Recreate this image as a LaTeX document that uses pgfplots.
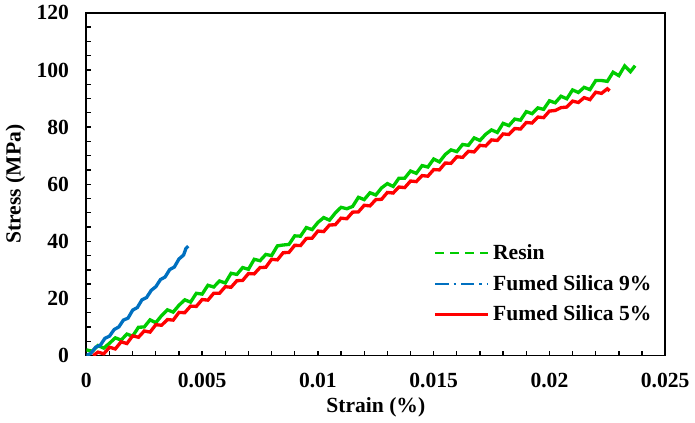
\documentclass[border=0pt]{standalone}
\usepackage{fontspec}
\setmainfont{Liberation Serif}
\usepackage{pgfplots}
\pgfplotsset{compat=1.18}

\definecolor{resin}{RGB}{0,204,0}
\definecolor{fs9}{RGB}{0,112,192}
\definecolor{fs5}{RGB}{255,0,0}

\begin{document}
\begin{tikzpicture}
\begin{axis}[
  scale only axis,
  width=348.6pt, height=206.4pt,
  xmin=0, xmax=0.025, ymin=0, ymax=120,
  scaled x ticks=false,
  xtick={0,0.005,0.01,0.015,0.02,0.025},
  xticklabels={0,0.005,0.01,0.015,0.02,0.025},
  ytick={0,20,...,120},
  yticklabels={0,20,40,60,80,100,120},
  minor x tick num=4, minor y tick num=3,
  tick pos=left, tick align=inside,
  major tick length=2.6pt, minor tick length=2.6pt,
  every tick/.style={black, line width=0.8pt},
  axis line style={line width=1.1pt},
  /pgf/number format/assume math mode=true,
  tick label style={font=\fontsize{13}{15}\selectfont\bfseries},
  xticklabel style={yshift=-7pt},
  yticklabel style={xshift=-7pt},
  xlabel={Strain (\%)}, ylabel={Stress (MPa)},
  label style={font=\fontsize{13}{15}\selectfont\bfseries},
  xlabel style={yshift=1pt},
  ylabel style={yshift=0pt},
  legend style={at={(0.6,0.335)}, anchor=north west, draw=none, fill=none,
    font=\fontsize{13}{15}\selectfont\bfseries, row sep=4pt,
    inner sep=0pt},
  legend cell align=left,
  legend image code/.code={\draw[#1] (0pt,0pt) -- (32pt,0pt);},
]
\addlegendimage{resin, line width=1.6pt, dash pattern=on 5pt off 4pt}
\addlegendentry{Resin}
\addlegendimage{fs9, line width=1.6pt, dash pattern=on 8pt off 3pt on 1.5pt off 3pt}
\addlegendentry{Fumed Silica 9\%}
\addlegendimage{fs5, line width=1.6pt}
\addlegendentry{Fumed Silica 5\%}

\addplot[resin, line width=2pt, forget plot] coordinates {
(0,2.0) (0.00025,1.5) (0.0005,3.5) (0.00075,2.6) (0.001,4.3) (0.00125,6.2)
(0.0015,5.4) (0.00175,7.5) (0.002,6.8) (0.00225,9.9) (0.0025,10.0) (0.00275,12.5)
(0.003,11.5) (0.00325,14.0) (0.0035,16.0) (0.00375,15.2) (0.004,17.6) (0.00425,19.5)
(0.0045,18.7) (0.00475,21.8) (0.005,21.5) (0.00525,24.6) (0.0055,24.0) (0.00575,26.1)
(0.006,25.4) (0.00625,28.8) (0.0065,28.4) (0.00675,30.8) (0.007,30.2) (0.00725,33.7)
(0.0075,33.2) (0.00775,35.4) (0.008,35.0) (0.00825,38.4) (0.0085,38.7) (0.00875,38.9)
(0.009,41.9) (0.00925,41.8) (0.0095,44.8) (0.00975,44.1) (0.01,46.6) (0.01025,48.3)
(0.0105,47.4) (0.01075,49.9) (0.011,51.9) (0.01125,51.4) (0.0115,52.2) (0.01175,55.4)
(0.012,54.6) (0.01225,57.0) (0.0125,56.2) (0.01275,58.7) (0.013,60.2) (0.01325,59.2)
(0.0135,62.1) (0.01375,62.1) (0.014,64.6) (0.01425,63.8) (0.0145,66.5) (0.01475,66.0)
(0.015,68.8) (0.01525,67.8) (0.0155,70.4) (0.01575,72.0) (0.016,71.4) (0.01625,73.9)
(0.0165,73.6) (0.01675,76.2) (0.017,75.3) (0.01725,77.5) (0.0175,79.0) (0.01775,78.1)
(0.018,81.3) (0.01825,80.5) (0.0185,82.8) (0.01875,82.4) (0.019,85.4) (0.01925,84.7)
(0.0195,86.7) (0.01975,86.2) (0.02,89.2) (0.02025,88.5) (0.0205,90.8) (0.02075,89.9)
(0.021,93.0) (0.02125,92.1) (0.0215,93.9) (0.02175,93.1) (0.022,96.3) (0.02225,96.3)
(0.0225,96.0) (0.02275,99.2) (0.023,98.0) (0.02325,101.4) (0.0235,99.4) (0.0237,101.5)
};

\addplot[fs9, line width=2pt, forget plot] coordinates {
(0,0.0) (0.0002,0.8) (0.0004,2.9) (0.0006,3.6) (0.0008,6.0) (0.001,6.8)
(0.0012,9.1) (0.0014,10.0) (0.0016,12.4) (0.0018,13.1) (0.002,15.9) (0.0022,16.8)
(0.0024,19.5) (0.0026,20.3) (0.0028,22.8) (0.003,24.1) (0.0032,26.6) (0.0034,27.5)
(0.0036,30.1) (0.0038,31.0) (0.004,33.8) (0.0042,35.2) (0.0043,37.5) (0.0044,38.3)
};

\addplot[fs5, line width=2pt, forget plot] coordinates {
(0.0003,0.0) (0.0005,1.2) (0.00075,0.6) (0.001,2.9) (0.00125,2.3) (0.0015,4.8)
(0.00175,4.2) (0.002,6.9) (0.00225,6.4) (0.0025,8.6) (0.00275,8.2) (0.003,10.8)
(0.00325,10.6) (0.0035,12.6) (0.00375,12.4) (0.004,15.1) (0.00425,15.0) (0.0045,17.3)
(0.00475,17.2) (0.005,19.6) (0.00525,19.4) (0.0055,21.8) (0.00575,21.8) (0.006,24.1)
(0.00625,23.9) (0.0065,26.2) (0.00675,26.3) (0.007,28.7) (0.00725,28.6) (0.0075,30.8)
(0.00775,30.9) (0.008,33.7) (0.00825,33.5) (0.0085,36.0) (0.00875,36.1) (0.009,38.6)
(0.00925,38.5) (0.0095,41.0) (0.00975,41.1) (0.01,43.6) (0.01025,43.4) (0.0105,45.7)
(0.01075,45.8) (0.011,48.1) (0.01125,47.9) (0.0115,50.2) (0.01175,50.3) (0.012,52.6)
(0.01225,52.4) (0.0125,54.6) (0.01275,54.7) (0.013,57.1) (0.01325,56.9) (0.0135,59.0)
(0.01375,58.8) (0.014,61.1) (0.01425,60.9) (0.0145,63.0) (0.01475,62.8) (0.015,65.1)
(0.01525,65.0) (0.0155,67.4) (0.01575,67.3) (0.016,69.6) (0.01625,69.4) (0.0165,71.5)
(0.01675,71.3) (0.017,73.6) (0.01725,73.4) (0.0175,75.5) (0.01775,75.3) (0.018,77.6)
(0.01825,77.4) (0.0185,79.5) (0.01875,79.3) (0.019,81.6) (0.01925,81.4) (0.0195,83.5)
(0.01975,83.3) (0.02,85.6) (0.02025,85.8) (0.0205,86.8) (0.02075,87.0) (0.021,89.1)
(0.02125,88.6) (0.0215,90.3) (0.02175,89.6) (0.022,92.2) (0.02225,91.8) (0.0225,93.4)
(0.0226,92.7)
};
\end{axis}
\end{tikzpicture}
\end{document}
